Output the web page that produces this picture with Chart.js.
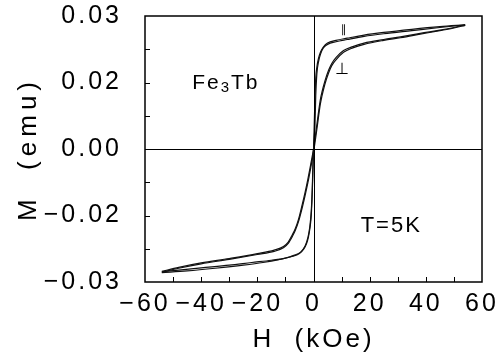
<!DOCTYPE html>
<html>
<head>
<meta charset="utf-8">
<script src="https://cdn.jsdelivr.net/npm/chart.js@4.4.1/dist/chart.umd.min.js"></script>
<style>
  html, body { margin: 0; padding: 0; background: #fff; }
  canvas { display: block; }
</style>
</head>
<body>
<canvas id="loop" width="499" height="357"></canvas>
<script>
// field H (kOe) and moment M (emu), each loop as two branches
const parDownH = [54, 45, 35, 25, 18, 12, 8, 5, 3.5, 2.5, 1.8, 1.2, 0.8, 0.5, 0.2, -0.1, -0.4, -0.8, -1.3, -2.0, -3.0, -4.5, -7, -10, -15, -22, -30, -40, -48, -54];
const parDownM = [0.0280, 0.0276, 0.0270, 0.0263, 0.0257, 0.0250, 0.0245, 0.0239, 0.0230, 0.0219, 0.0205, 0.0185, 0.0160, 0.0110, 0.0040, -0.0030, -0.0090, -0.0140, -0.0175, -0.0200, -0.0219, -0.0232, -0.0240, -0.0246, -0.0251, -0.0256, -0.0262, -0.0268, -0.0273, -0.0277];

const parUpH = [-54, -45, -35, -25, -18, -12, -8, -5, -3.5, -2.5, -1.8, -1.2, -0.8, -0.5, -0.2, 0.1, 0.5, 0.8, 1.2, 1.8, 2.5, 3.5, 5, 8, 12, 18, 25, 35, 45, 54];
const parUpM = [-0.0279, -0.0275, -0.0269, -0.0262, -0.0256, -0.0249, -0.0243, -0.0236, -0.0226, -0.0214, -0.0198, -0.0175, -0.0150, -0.0105, -0.0035, 0.0010, 0.0050, 0.0120, 0.0170, 0.0197, 0.0214, 0.0228, 0.0236, 0.0242, 0.0247, 0.0254, 0.0260, 0.0267, 0.0274, 0.0280];

const perpDownH = [54, 50, 45, 38, 31, 25, 18, 14, 10.7, 8, 6.5, 5.4, 4, 3, 2.4, 1.2, 0, -1, -2, -3, -4, -5.4, -6.5, -7.5, -9, -10.7, -14, -20, -30, -40, -48, -54];
const perpDownM = [0.0280, 0.0274, 0.0268, 0.0261, 0.0253, 0.0247, 0.0239, 0.0231, 0.0222, 0.0206, 0.0193, 0.0178, 0.0152, 0.0128, 0.0110, 0.0055, 0.0000, -0.0035, -0.0068, -0.0098, -0.0125, -0.0160, -0.0180, -0.0193, -0.0210, -0.0220, -0.0228, -0.0236, -0.0247, -0.0257, -0.0267, -0.0276];

const perpUpH = [-54, -48, -40, -30, -20, -14, -10.7, -9, -7.5, -6.5, -5.4, -4, -3, -2, -1, 0, 1.2, 2.4, 3, 4, 5.4, 6.5, 8, 10.7, 14, 18, 25, 31, 38, 45, 50, 54];
const perpUpM = [-0.0278, -0.0269, -0.0259, -0.0249, -0.0238, -0.0231, -0.0223, -0.0213, -0.0197, -0.0184, -0.0165, -0.0132, -0.0105, -0.0076, -0.0043, -0.0008, 0.0045, 0.0100, 0.0119, 0.0145, 0.0172, 0.0188, 0.0201, 0.0218, 0.0228, 0.0236, 0.0245, 0.0251, 0.0259, 0.0267, 0.0273, 0.0279];

const xTickValues = [-60, -40, -20, 0, 20, 40, 60];
const xTickLabels = ['\u221260', '\u221240', '\u221220', '0', '20', '40', '60'];
const yTickValues = [-0.03, -0.015, 0, 0.015, 0.03];
const yTickLabels = ['\u22120.03', '\u22120.02', '0.00', '0.02', '0.03'];

const FONT = '"Liberation Sans", Arial, sans-serif';

function toPoints(hs, ms) {
    return hs.map((h, i) => ({ x: h, y: ms[i] }));
}

function branch(hs, ms) {
    return {
        data: toPoints(hs, ms),
        showLine: true,
        borderColor: '#111',
        borderWidth: 1.2,
        pointRadius: 0,
        cubicInterpolationMode: 'monotone',
        fill: false
    };
}

// wider letter spacing for tick labels and axis titles
function spaced(scale, labelGap, titleGap) {
    if (scale._spaced) return;
    const drawTitle = scale.drawTitle, drawLabels = scale.drawLabels;
    scale.drawTitle = function () {
        this.ctx.letterSpacing = titleGap;
        drawTitle.call(this);
        this.ctx.letterSpacing = '0px';
    };
    scale.drawLabels = function (area) {
        this.ctx.letterSpacing = labelGap;
        drawLabels.call(this, area);
        this.ctx.letterSpacing = '0px';
    };
    scale._spaced = true;
}

// frame, zero lines, inward ticks and the text labels
const decor = {
    id: 'decor',
    beforeDraw(chart) {
        spaced(chart.scales.x, '3px', '3px');
        spaced(chart.scales.y, '3px', '5px');
    },
    afterDraw(chart) {
        const ctx = chart.ctx;
        const xs = chart.scales.x, ys = chart.scales.y;
        const a = chart.chartArea;
        ctx.save();
        ctx.strokeStyle = '#000';

        ctx.lineWidth = 1;
        const y0 = Math.round(ys.getPixelForValue(0)) + 0.5;
        const x0 = Math.round(xs.getPixelForValue(0)) + 0.5;
        ctx.beginPath();
        ctx.moveTo(a.left, y0); ctx.lineTo(a.right, y0);
        ctx.moveTo(x0, a.top); ctx.lineTo(x0, a.bottom);
        ctx.stroke();

        ctx.beginPath();
        for (let h = -50; h <= 50; h += 10) {
            const px = Math.round(xs.getPixelForValue(h)) + 0.5;
            ctx.moveTo(px, a.bottom); ctx.lineTo(px, a.bottom - 5);
        }
        for (let m = -0.0225; m <= 0.0226; m += 0.0075) {
            const py = Math.round(ys.getPixelForValue(m)) + 0.5;
            ctx.moveTo(a.left, py); ctx.lineTo(a.left + 5, py);
        }
        ctx.stroke();

        ctx.lineWidth = 1.5;
        ctx.strokeRect(a.left, a.top, a.right - a.left, a.bottom - a.top);

        ctx.fillStyle = '#000';
        ctx.textBaseline = 'middle';
        ctx.textAlign = 'left';
        ctx.letterSpacing = '2px';

        // Fe3Tb with subscript
        let tx = xs.getPixelForValue(-43.2);
        const ty = ys.getPixelForValue(0.0149);
        ctx.font = '21px ' + FONT;
        ctx.fillText('Fe', tx, ty);
        tx += ctx.measureText('Fe').width;
        ctx.font = '15px ' + FONT;
        ctx.fillText('3', tx, ty + 5);
        tx += ctx.measureText('3').width;
        ctx.font = '21px ' + FONT;
        ctx.fillText('Tb', tx, ty);

        ctx.font = '22px ' + FONT;
        ctx.fillText('T=5K', xs.getPixelForValue(16.8), ys.getPixelForValue(-0.0174));

        ctx.letterSpacing = '0px';
        ctx.textAlign = 'center';
        ctx.font = '11px "DejaVu Sans", sans-serif';
        ctx.fillText('\u2225', xs.getPixelForValue(10.8), ys.getPixelForValue(0.0268));
        ctx.font = '16px "DejaVu Sans", sans-serif';
        ctx.fillText('\u22a5', xs.getPixelForValue(10.2), ys.getPixelForValue(0.0178));
        ctx.restore();
    }
};

new Chart(document.getElementById('loop'), {
    type: 'scatter',
    data: {
        datasets: [
            branch(parDownH, parDownM),
            branch(parUpH, parUpM),
            branch(perpDownH, perpDownM),
            branch(perpUpH, perpUpM)
        ]
    },
    options: {
        responsive: false,
        devicePixelRatio: 1,
        animation: false,
        layout: { padding: { left: 0, top: 16, right: 17, bottom: 0 } },
        plugins: { legend: { display: false }, tooltip: { enabled: false } },
        scales: {
            x: {
                type: 'linear',
                min: -60,
                max: 60,
                grid: { display: false },
                border: { display: false },
                afterFit(scale) { scale.height = 75; },
                afterBuildTicks(scale) { scale.ticks = xTickValues.map(v => ({ value: v })); },
                ticks: {
                    autoSkip: false,
                    maxRotation: 0,
                    padding: -1,
                    color: '#000',
                    font: { family: FONT, size: 25 },
                    callback: (v, i) => xTickLabels[i]
                },
                title: {
                    display: true,
                    text: 'H  (kOe)',
                    color: '#000',
                    font: { family: FONT, size: 26 },
                    padding: { top: 0, bottom: 2 }
                }
            },
            y: {
                type: 'linear',
                min: -0.03,
                max: 0.03,
                grid: { display: false },
                border: { display: false },
                afterFit(scale) {
                    scale.width = 145;
                    scale.paddingTop = 0;
                    scale.paddingBottom = 0;
                },
                afterBuildTicks(scale) { scale.ticks = yTickValues.map(v => ({ value: v })); },
                ticks: {
                    padding: 15,
                    color: '#000',
                    font: { family: FONT, size: 25 },
                    callback: (v, i) => yTickLabels[i]
                },
                title: {
                    display: true,
                    text: 'M  (emu)',
                    color: '#000',
                    font: { family: FONT, size: 26 },
                    padding: { top: 13, bottom: 0 }
                }
            }
        }
    },
    plugins: [decor]
});
</script>
</body>
</html>
